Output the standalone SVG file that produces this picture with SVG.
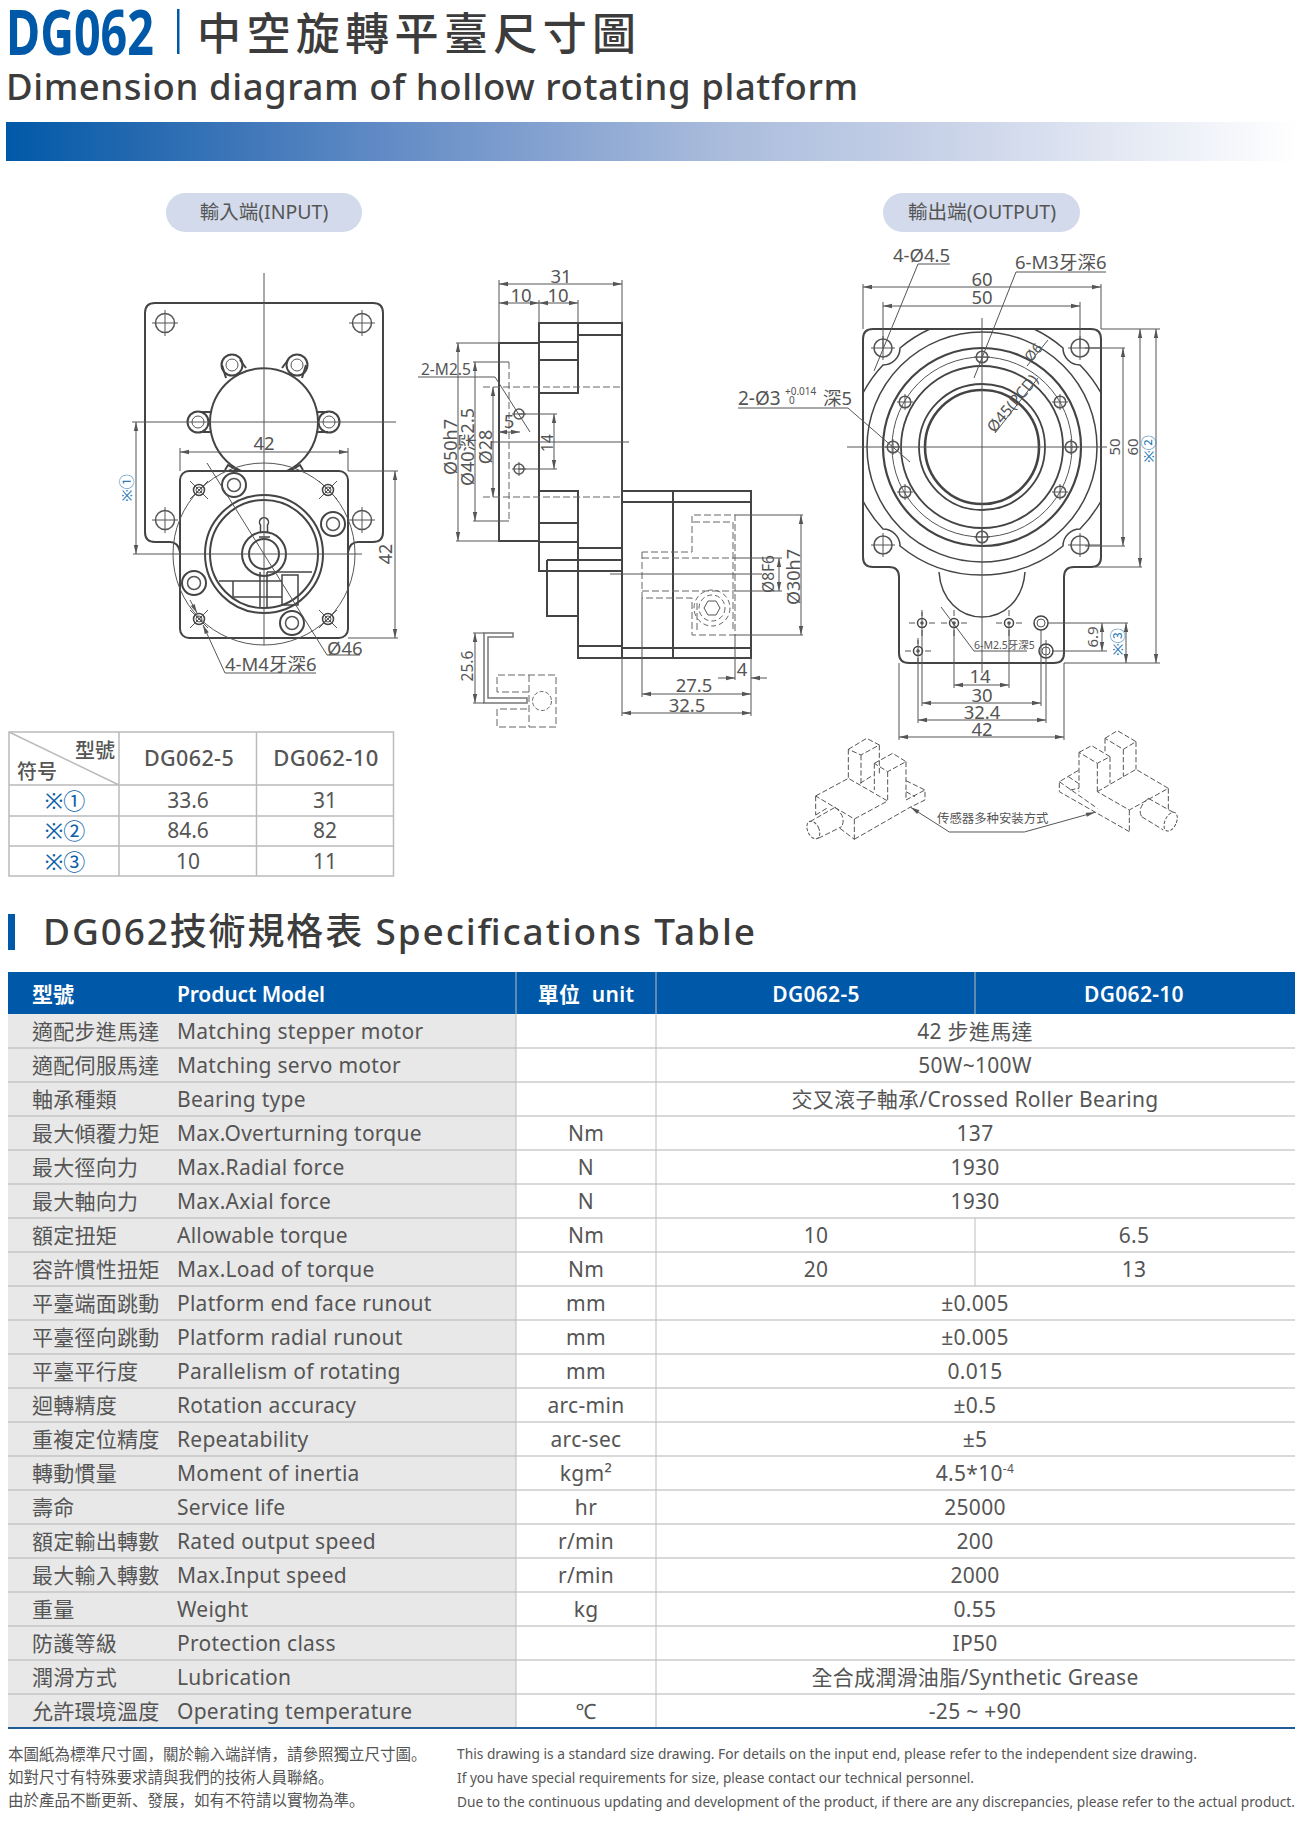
<svg xmlns="http://www.w3.org/2000/svg" width="1310" height="1842" viewBox="0 0 1310 1842">
<style>
text{font-family:"Noto Sans","Noto Sans CJK TC",sans-serif;fill:#555}
.cn{font-family:"Noto Sans CJK TC","Noto Sans",sans-serif}
.sc{font-family:"Noto Sans CJK SC","Noto Sans",sans-serif}
.m{text-anchor:middle}
.d{font-size:18.5px;fill:#555}
.r{font-size:18px;text-anchor:middle;dominant-baseline:central}
.b{fill:#2a7ab8}
.k{fill:none;stroke:#444;stroke-width:2}
.n{fill:none;stroke:#555;stroke-width:1}
.h{fill:none;stroke:#666;stroke-width:1;stroke-dasharray:7 3}
.a{fill:none;stroke:#555;stroke-width:1;marker-start:url(#arr);marker-end:url(#arr)}
.e{fill:none;stroke:#555;stroke-width:1;marker-end:url(#arr)}
.s{fill:none;stroke:#555;stroke-width:3;stroke-dasharray:16 7}
.sl{fill:none;stroke:#555;stroke-width:3;marker-start:url(#arr3);marker-end:url(#arr3)}
.g{fill:none;stroke:#bbb;stroke-width:1.5}
.l{font-size:21px;fill:#555;letter-spacing:.25px}
.u{font-size:21px;fill:#555;text-anchor:middle;letter-spacing:.3px}
.w{font-size:21px;fill:#fff;font-weight:600}
.rl{stroke:#b4b4b4;stroke-width:1.2}
.vl{stroke:#bdbdbd;stroke-width:1}
.f{font-size:15.2px;fill:#555}
.fc{font-size:15.5px;fill:#555}
.hd{font-size:21.5px;font-weight:500;letter-spacing:.4px;text-anchor:middle}
.sy{font-size:22px;fill:#0b5fa8;text-anchor:middle}
</style>
<defs>
<linearGradient id="bar" x1="0" x2="1" y1="0" y2="0">
<stop offset="0" stop-color="#0059a8"/><stop offset=".12" stop-color="#2a6cb2"/><stop offset=".3" stop-color="#648cc6"/><stop offset=".55" stop-color="#a9bbdc"/><stop offset=".75" stop-color="#cdd6ea"/><stop offset="1" stop-color="#fff"/>
</linearGradient>
<marker id="arr" viewBox="-10 -3 11 6" refX="0" refY="0" markerWidth="11" markerHeight="6" markerUnits="userSpaceOnUse" orient="auto-start-reverse"><path d="M0,0 L-9,-2.2 L-9,2.2 Z" fill="#555"/></marker>
<marker id="arr3" viewBox="-10 -3 11 6" refX="0" refY="0" markerWidth="33" markerHeight="18" markerUnits="userSpaceOnUse" orient="auto-start-reverse"><path d="M0,0 L-9,-2.2 L-9,2.2 Z" fill="#555"/></marker>
<g id="hole"><circle r="9.5" class="n" style="stroke-width:1.5"/><path d="M-13,0H13M0,-13V13" class="n"/></g>
<g id="lobe"><circle r="10.5" class="k"/><circle r="6" class="n"/></g>
<g id="bolt"><circle r="12" class="k"/><circle r="6.5" class="n" style="stroke-width:1.5"/></g>
<g id="tap"><circle r="5.5" class="k" style="stroke-width:1.5"/><circle r="3" class="n"/><path d="M-9,-9L9,9M-9,9L9,-9" class="n"/></g>
<g id="pcd"><circle r="5.8" class="n" style="stroke-width:1.5"/><path d="M-8,0H8M0,-8V8" class="n"/></g>
<g id="tiny"><circle r="4.5" class="k" style="stroke-width:1.5"/><circle r="1.8" fill="#555"/><path d="M-13,0H-7M7,0H13M0,-13V-7M0,7V13" class="n"/></g>
</defs>

<g id="title">
<text x="6" y="55" font-size="62" font-weight="700" style="fill:#0059a8" textLength="148" lengthAdjust="spacingAndGlyphs">DG062</text>
<rect x="177" y="9" width="2.5" height="45" fill="#0059a8"/>
<text class="cn" x="197" y="50" font-size="44" font-weight="500" style="fill:#3c3c3c" textLength="439">中空旋轉平臺尺寸圖</text>
<text x="6" y="100" font-size="36.500" font-weight="500" style="fill:#3c3c3c" textLength="852">Dimension diagram of hollow rotating platform</text>
<rect x="6" y="122" width="1292" height="39" fill="url(#bar)"/>
</g>

<g id="input-label"><rect x="166" y="193" width="196" height="39" rx="19.5" fill="#d2daeb"/><text class="m" x="264" y="219" font-size="19.500">輸入端(INPUT)</text></g>
<g id="output-label"><rect x="883" y="193" width="197" height="39" rx="19.5" fill="#d2daeb"/><text class="m" x="982" y="219" font-size="19.600">輸出端(OUTPUT)</text></g>

<g id="input-view">
<path class="k" d="M180,552 Q178,542 170,542 H155 Q145,542 145,532 V313 Q145,303 155,303 H373 Q383,303 383,313 V532 Q383,542 373,542 H358 Q350,542 348,552"/>
<use href="#hole" x="165" y="323"/><use href="#hole" x="362" y="323"/><use href="#hole" x="165" y="520"/><use href="#hole" x="362" y="520"/>
<path class="k" d="M287,471 A54,54 0 1 0 241,471"/>
<path class="k" d="M225,470L228,465L238,471M303,470L300,465L290,471"/>
<path class="k" d="M222,365L226,378M240,360L246,368M306,365L302,378M288,360L282,368M200,412H211M200,432H211M328,412H317M328,432H317"/>
<use href="#lobe" x="232" y="365"/><use href="#lobe" x="297" y="365"/><use href="#lobe" x="198" y="422"/><use href="#lobe" x="329" y="422"/>
<rect class="k" x="180" y="471" width="168" height="167" rx="9"/>
<circle class="n" cx="264" cy="554" r="91"/>
<circle class="k" cx="264" cy="554" r="59"/><circle class="k" cx="264" cy="554" r="54"/>
<circle class="k" cx="264" cy="554" r="22"/><circle class="k" cx="264" cy="554" r="15"/>
<path class="k" style="stroke-width:1.5" d="M260.5,533V525A4.5,4.5 0 1 1 267.5,525V533M259,537H270"/>
<path class="k" style="stroke-width:1.5" d="M260,572V608M267,572V608M219,581H282M233,597H282M233,597V581M282,575H298V605H282ZM282,581V597"/>
<path class="k" style="stroke-width:1.5" d="M267,572H312"/>
<use href="#bolt" x="234" y="485"/><use href="#bolt" x="333" y="524"/><use href="#bolt" x="194" y="583"/><use href="#bolt" x="292" y="623"/>
<use href="#tap" x="199" y="490"/><use href="#tap" x="328" y="490"/><use href="#tap" x="199" y="619"/><use href="#tap" x="328" y="619"/>
</g>
<g id="input-connectors">
<path class="n" d="M264,273V645M132,422H396M133,554H362"/>
<path class="a" d="M180,452H348"/><path class="n" d="M180,448V471M348,448V471M348,471H398M348,638H398"/>
<path class="a" d="M395,471V638"/>
<path class="a" d="M136,422V554"/>
<path class="n" d="M207,463L327,655H360"/>
<path class="e" d="M316,673H225L203,625"/><path class="e" d="M190,600L197,613"/>
</g>
<g id="input-text">
<text class="d m" x="264" y="450">42</text>
<text class="r" transform="rotate(-90 385 554)" x="385" y="554">42</text>
<text class="r b" transform="rotate(-90 126 488)" x="126" y="488" style="font-size:15px">※①</text>
<text class="d" x="327" y="655">Ø46</text>
<text class="d" x="225" y="671">4-M4牙深6</text>
</g>

<g id="side-view">
<path class="k" d="M499,343H539V541H499Z"/>
<path class="k" d="M539,393V323H622V658H578V491H539V571H547M539,393H578V323M539,342H578M539,360H578M578,335H622M539,523H578M539,542H578M539,571H622M578,548H622M578,560H622M578,646H622"/>
<path class="k" d="M547,560H578M547,560V616H578"/>
<path class="k" d="M622,491H751V658H622M622,502H751M622,648H751M673,491V658"/>
<path class="h" d="M483,387H622M483,497H622M509,362V521M642,552V598H692V635H735V515H692V552H642M693,522H733V630M697,630V600M642,558H735M642,591H735"/>
<path class="n" d="M473,362H509M473,521H509"/>
<circle class="n" cx="519" cy="414" r="5" style="stroke-width:1.5"/><circle class="n" cx="519" cy="469" r="5" style="stroke-width:1.5"/>
<path class="n" d="M512,469H526M519,462V476M512,414H526"/>
<polygon class="n" points="720,608 716,615 708,615 704,608 708,601 716,601"/>
<circle class="h" cx="712" cy="608" r="13" style="stroke-dasharray:5 3"/><circle class="h" cx="712" cy="608" r="18" style="stroke-dasharray:5 3"/>
<path class="k" d="M484,633H513V637H488V698H527V703H484Z" style="stroke:#777;stroke-width:1.5"/>
<path class="h" d="M529,692H497V675H556V727H497V709H529M529,675V727"/>
<circle class="h" cx="542" cy="701" r="9.5" style="stroke-dasharray:4 2"/>
</g>
<g id="side-connectors">
<path class="n" d="M499,280V343M622,280V323M539,300V323M578,300V323M456,343H499M456,541H499M491,442H629M610,574H762M519,414H557M519,469H557"/>
<path class="a" d="M499,284H622"/><path class="a" d="M499,303H539"/><path class="a" d="M539,303H578"/>
<path class="a" d="M458,343V541"/><path class="a" d="M475,362V521"/><path class="a" d="M493,387V497"/><path class="a" d="M554,414V469"/><path class="a" d="M498,432H520"/>
<path class="n" d="M418,377H495L530,432"/>
<path class="n" d="M735,515H803M735,635H803M735,558H782M735,591H782M735,635V680M751,658V716M622,658V716M642,598V697M473,633H484M473,703H484"/>
<path class="a" d="M779,558V591"/><path class="a" d="M801,515V635"/>
<path class="e" d="M718,678H735"/><path class="e" d="M767,678H751"/>
<path class="a" d="M642,694H751"/><path class="a" d="M622,713H751"/><path class="a" d="M475,633V703"/>
</g>
<g id="side-text">
<text class="d m" x="561" y="283">31</text><text class="d m" x="521" y="302">10</text><text class="d m" x="558" y="302">10</text>
<text class="d" x="421" y="375" style="font-size:15.5px">2-M2.5</text>
<text class="d m" x="509" y="428">5</text>
<text class="r" transform="rotate(-90 450 447)" x="450" y="447">Ø50h7</text>
<text class="r" transform="rotate(-90 467 447)" x="467" y="447">Ø40深2.5</text>
<text class="r" transform="rotate(-90 485 447)" x="485" y="447">Ø28</text>
<text class="r" transform="rotate(-90 547 443)" x="547" y="443" style="font-size:15.5px">14</text>
<text class="r" transform="rotate(-90 768 574)" x="768" y="574" style="font-size:15.5px">Ø8F6</text>
<text class="r" transform="rotate(-90 793 577)" x="793" y="577">Ø30h7</text>
<text class="d m" x="742" y="676">4</text><text class="d m" x="694" y="692">27.5</text><text class="d m" x="687" y="712">32.5</text>
<text class="r" transform="rotate(-90 467 666)" x="467" y="666" style="font-size:15.5px">25.6</text>
</g>

<g id="output-view">
<path class="k" d="M873,329H1091Q1101,329 1101,339V557Q1101,567 1091,567H1074Q1064,567 1064,577V653Q1064,663 1054,663H909Q899,663 899,653V577Q899,567 889,567H873Q863,567 863,557V339Q863,329 873,329Z"/>
<path class="k" style="stroke-width:1.5" d="M930,329A129,129 0 0 0 900,348A17,17 0 0 1 883,365A129,129 0 0 0 863,393M1034,329A129,129 0 0 1 1063,348A17,17 0 0 0 1080,365A129,129 0 0 1 1101,393M863,501A129,129 0 0 0 883,529A17,17 0 0 1 900,546A129,129 0 0 0 1063,546A17,17 0 0 1 1080,529A129,129 0 0 0 1101,501"/>
<path class="k" style="stroke-width:1.5" d="M939,572C941,600 960,617 982,617C1004,617 1023,600 1025,572"/>
<circle class="k" cx="982" cy="447" r="115" style="stroke-width:1.5"/>
<circle class="k" cx="982" cy="447" r="99" style="stroke-width:2.2"/>
<circle class="n" cx="982" cy="447" r="90"/>
<circle class="k" cx="982" cy="447" r="81" style="stroke-width:1.8"/>
<circle class="k" cx="982" cy="447" r="63" style="stroke-width:1.8"/>
<circle class="k" cx="982" cy="447" r="57" style="stroke-width:2.6"/>
<g><circle class="n" cx="883" cy="348" r="9" style="stroke-width:1.6"/><circle class="n" cx="1080" cy="348" r="9" style="stroke-width:1.6"/><circle class="n" cx="883" cy="545" r="9" style="stroke-width:1.6"/><circle class="n" cx="1080" cy="545" r="9" style="stroke-width:1.6"/>
<path class="n" d="M871,348H895M883,336V360M1068,348H1100M1080,336V360M871,545H895M883,533V557M1068,545H1100M1080,533V557"/></g>
<use href="#pcd" x="982" y="357"/><use href="#pcd" x="1060" y="402"/><use href="#pcd" x="1060" y="492"/><use href="#pcd" x="982" y="537"/><use href="#pcd" x="905" y="492"/><use href="#pcd" x="905" y="402"/><use href="#pcd" x="893" y="447"/><use href="#pcd" x="1071" y="447"/>
<use href="#tiny" x="922" y="623"/><use href="#tiny" x="954" y="623"/><use href="#tiny" x="1009" y="623"/><use href="#tiny" x="918" y="651"/>
<circle class="k" cx="1041" cy="623" r="7" style="stroke-width:1.5"/><circle class="n" cx="1041" cy="623" r="4"/><circle class="k" cx="1046" cy="651" r="7" style="stroke-width:1.5"/><circle class="n" cx="1046" cy="651" r="4"/>
</g>
<g id="output-connectors">
<path class="n" d="M982,318V673M847,447H1107"/>
<path class="n" d="M863,284V329M1101,284V329M883,302V348M1080,302V348M1085,348H1125M1085,546H1125M1101,329H1160M1095,567H1142M1064,663H1160M1048,623H1128M1052,651H1107"/>
<path class="a" d="M863,287H1101"/><path class="a" d="M883,306H1080"/>
<path class="a" d="M1123,348V546"/><path class="a" d="M1140,329V567"/><path class="a" d="M1156,329V663"/><path class="a" d="M1102,623V651"/><path class="a" d="M1126,623V663"/>
<path class="n" d="M954,623V688M1009,623V688M922,612V706M1041,630V706M918,640V723M1046,640V723M899,663V740M1064,663V740"/>
<path class="a" d="M954,685H1009"/><path class="a" d="M922,703H1041"/><path class="a" d="M918,720H1046"/><path class="a" d="M899,737H1064"/>
<path class="n" d="M950,264H918L874,371"/><path class="n" d="M1106,272H1016L974,378"/>
<path class="n" d="M738,408H848L910,462"/>
<path class="n" d="M995,433L1038,378M1027,366L1048,340"/>
<path class="n" d="M1027,651H974L941,607"/>
</g>
<g id="output-text">
<text class="d" x="893" y="262">4-Ø4.5</text>
<text class="d" x="1015" y="269">6-M3牙深6</text>
<text class="d m" x="982" y="286">60</text><text class="d m" x="982" y="304">50</text>
<text class="d" x="738" y="405" style="font-size:19px">2-Ø3</text>
<text x="785" y="395" font-size="10">+0.014</text><text x="789" y="404" font-size="10">0</text>
<text class="d" x="823" y="405">深5</text>
<text class="r" transform="rotate(-50 1012 403)" x="1012" y="403" style="font-size:15.5px">Ø45(PCD)</text>
<text class="r" transform="rotate(-50 1033 352)" x="1033" y="352" style="font-size:14px">Ø6</text>
<text class="r" transform="rotate(-90 1114 447)" x="1114" y="447" style="font-size:15px">50</text>
<text class="r" transform="rotate(-90 1132 447)" x="1132" y="447" style="font-size:15px">60</text>
<text class="r b" transform="rotate(-90 1148 449)" x="1148" y="449" style="font-size:15px">※②</text>
<text class="r" transform="rotate(-90 1092 637)" x="1092" y="637" style="font-size:15px">6.9</text>
<text class="r b" transform="rotate(-90 1117 642)" x="1117" y="642" style="font-size:15px">※③</text>
<text x="974" y="649" font-size="10.5">6-M2.5牙深5</text>
<text class="d m" x="980" y="683">14</text><text class="d m" x="982" y="702">30</text><text class="d m" x="982" y="719">32.4</text><text class="d m" x="982" y="736">42</text>
</g>

<g id="sensors" transform="translate(790 720) scale(.33333)">
<path class="s" d="M175,88L230,55L268,75L213,105ZM175,88V175M213,105V190M268,75V165M253,130L308,100L348,125L293,155ZM253,130V210M293,155V240M348,125V240M77,228L175,175L293,243L193,297ZM77,228V285M193,297V358M193,358L360,262M348,182L405,210V240L360,262M348,215L375,230M348,240L405,210M210,190L250,165"/>
<path class="s" d="M60,305L135,262M85,355L155,320M135,262Q170,290 155,320M77,285L110,265M150,325L193,358"/>
<ellipse class="s" cx="70" cy="330" rx="17" ry="28" transform="rotate(-25 70 330)" style="stroke-dasharray:10 5"/>
<path class="s" d="M945,55L982,32L1038,65L1000,88ZM945,55V100M1000,88V170M1038,65V148M867,97L905,77L960,110L922,130ZM867,97V215M922,130V215M960,110V190M922,215L1038,148L1135,205L1018,270ZM1135,205V270M1018,270V335M1018,335L808,215V185L867,150M808,185L922,265M835,170L865,190M840,210L867,205"/>
<path class="s" d="M1075,235L1155,280M1055,290L1120,330M1075,235Q1040,265 1055,290"/>
<ellipse class="s" cx="1142" cy="305" rx="17" ry="30" transform="rotate(25 1142 305)" style="stroke-dasharray:10 5"/>
<path class="sl" d="M362,262L478,336H703L915,277"/>
</g>
<text id="sensor-label" class="sc" x="937" y="823" font-size="12.4">传感器多种安装方式</text>

<g id="symbol-table">
<rect class="g" x="9" y="732" width="384.500" height="144"/>
<path class="g" d="M9,732L119,785M119,732V876M256.500,732V876M9,785H393.500M9,816H393.500M9,846H393.500"/>
<text class="cn" x="75" y="758" font-size="20" font-weight="500">型號</text>
<text class="sc" x="17" y="779" font-size="20" font-weight="500">符号</text>
<text class="hd" x="189" y="766">DG062-5</text>
<text class="hd" x="326" y="766" style="font-size:22px">DG062-10</text>
<text class="sy" x="65" y="809">※①</text><text class="m" x="188" y="808" font-size="21">33.6</text><text class="m" x="325" y="808" font-size="21">31</text>
<text class="sy" x="65" y="839">※②</text><text class="m" x="188" y="838" font-size="21">84.6</text><text class="m" x="325" y="838" font-size="21">82</text>
<text class="sy" x="65" y="870">※③</text><text class="m" x="188" y="869" font-size="21">10</text><text class="m" x="325" y="869" font-size="21">11</text>
</g>

<g id="spec-heading">
<rect x="8" y="914" width="7" height="36" fill="#0059a8"/>
<text x="43" y="945" font-size="37" font-weight="500" style="fill:#3c3c3c" textLength="712">DG062技術規格表 Specifications Table</text>
</g>

<g id="spec-table">
<rect x="8" y="972" width="1287" height="42" fill="#0059a8"/>
<rect x="8" y="1014" width="508" height="714" fill="#e8e8e8"/>
<path class="rl" d="M8,1048H1295M8,1082H1295M8,1116H1295M8,1150H1295M8,1184H1295M8,1218H1295M8,1252H1295M8,1286H1295M8,1320H1295M8,1354H1295M8,1388H1295M8,1422H1295M8,1456H1295M8,1490H1295M8,1524H1295M8,1558H1295M8,1592H1295M8,1626H1295M8,1660H1295M8,1694H1295"/>
<path class="vl" d="M516,972V1728M656,972V1728M975,972V1014M975,1218V1286"/>
<rect x="8" y="1727" width="1287" height="2" fill="#1f5d99"/>
<text class="w cn" x="32" y="1002">型號</text><text class="w" x="177" y="1002" textLength="148">Product Model</text>
<text class="w u" x="586" y="1002" style="fill:#fff;font-weight:600">單位&#160;&#160;unit</text><text class="w u" x="816" y="1002" style="fill:#fff;font-weight:600">DG062-5</text><text class="w u" x="1134" y="1002" style="fill:#fff;font-weight:600">DG062-10</text>
<g id="row-1"><text class="l cn" x="32" y="1039">適配步進馬達</text><text class="l" x="177" y="1039">Matching stepper motor</text><text class="u" x="975" y="1039">42 步進馬達</text></g>
<g id="row-2"><text class="l cn" x="32" y="1073">適配伺服馬達</text><text class="l" x="177" y="1073">Matching servo motor</text><text class="u" x="975" y="1073">50W~100W</text></g>
<g id="row-3"><text class="l cn" x="32" y="1107">軸承種類</text><text class="l" x="177" y="1107">Bearing type</text><text class="u" x="975" y="1107">交叉滾子軸承/Crossed Roller Bearing</text></g>
<g id="row-4"><text class="l cn" x="32" y="1141">最大傾覆力矩</text><text class="l" x="177" y="1141">Max.Overturning torque</text><text class="u" x="586" y="1141">Nm</text><text class="u" x="975" y="1141">137</text></g>
<g id="row-5"><text class="l cn" x="32" y="1175">最大徑向力</text><text class="l" x="177" y="1175">Max.Radial force</text><text class="u" x="586" y="1175">N</text><text class="u" x="975" y="1175">1930</text></g>
<g id="row-6"><text class="l cn" x="32" y="1209">最大軸向力</text><text class="l" x="177" y="1209">Max.Axial force</text><text class="u" x="586" y="1209">N</text><text class="u" x="975" y="1209">1930</text></g>
<g id="row-7"><text class="l cn" x="32" y="1243">額定扭矩</text><text class="l" x="177" y="1243">Allowable torque</text><text class="u" x="586" y="1243">Nm</text><text class="u" x="816" y="1243">10</text><text class="u" x="1134" y="1243">6.5</text></g>
<g id="row-8"><text class="l cn" x="32" y="1277">容許慣性扭矩</text><text class="l" x="177" y="1277">Max.Load of torque</text><text class="u" x="586" y="1277">Nm</text><text class="u" x="816" y="1277">20</text><text class="u" x="1134" y="1277">13</text></g>
<g id="row-9"><text class="l cn" x="32" y="1311">平臺端面跳動</text><text class="l" x="177" y="1311">Platform end face runout</text><text class="u" x="586" y="1311">mm</text><text class="u" x="975" y="1311">±0.005</text></g>
<g id="row-10"><text class="l cn" x="32" y="1345">平臺徑向跳動</text><text class="l" x="177" y="1345">Platform radial runout</text><text class="u" x="586" y="1345">mm</text><text class="u" x="975" y="1345">±0.005</text></g>
<g id="row-11"><text class="l cn" x="32" y="1379">平臺平行度</text><text class="l" x="177" y="1379">Parallelism of rotating</text><text class="u" x="586" y="1379">mm</text><text class="u" x="975" y="1379">0.015</text></g>
<g id="row-12"><text class="l cn" x="32" y="1413">迴轉精度</text><text class="l" x="177" y="1413">Rotation accuracy</text><text class="u" x="586" y="1413">arc-min</text><text class="u" x="975" y="1413">±0.5</text></g>
<g id="row-13"><text class="l cn" x="32" y="1447">重複定位精度</text><text class="l" x="177" y="1447">Repeatability</text><text class="u" x="586" y="1447">arc-sec</text><text class="u" x="975" y="1447">±5</text></g>
<g id="row-14"><text class="l cn" x="32" y="1481">轉動慣量</text><text class="l" x="177" y="1481">Moment of inertia</text><text class="u" x="586" y="1481">kgm²</text><text class="u" x="975" y="1481">4.5*10<tspan font-size="12" dy="-8">-4</tspan></text></g>
<g id="row-15"><text class="l cn" x="32" y="1515">壽命</text><text class="l" x="177" y="1515">Service life</text><text class="u" x="586" y="1515">hr</text><text class="u" x="975" y="1515">25000</text></g>
<g id="row-16"><text class="l cn" x="32" y="1549">額定輸出轉數</text><text class="l" x="177" y="1549">Rated output speed</text><text class="u" x="586" y="1549">r/min</text><text class="u" x="975" y="1549">200</text></g>
<g id="row-17"><text class="l cn" x="32" y="1583">最大輸入轉數</text><text class="l" x="177" y="1583">Max.Input speed</text><text class="u" x="586" y="1583">r/min</text><text class="u" x="975" y="1583">2000</text></g>
<g id="row-18"><text class="l cn" x="32" y="1617">重量</text><text class="l" x="177" y="1617">Weight</text><text class="u" x="586" y="1617">kg</text><text class="u" x="975" y="1617">0.55</text></g>
<g id="row-19"><text class="l cn" x="32" y="1651">防護等級</text><text class="l" x="177" y="1651">Protection class</text><text class="u" x="975" y="1651">IP50</text></g>
<g id="row-20"><text class="l cn" x="32" y="1685">潤滑方式</text><text class="l" x="177" y="1685">Lubrication</text><text class="u" x="975" y="1685">全合成潤滑油脂/Synthetic Grease</text></g>
<g id="row-21"><text class="l cn" x="32" y="1719">允許環境溫度</text><text class="l" x="177" y="1719">Operating temperature</text><text class="u" x="586" y="1719">℃</text><text class="u" x="975" y="1719">-25 ~ +90</text></g>
</g>

<g id="footer">
<text class="fc sc" x="8" y="1760">本圖紙為標準尺寸圖，關於輸入端詳情，請參照獨立尺寸圖。</text>
<text class="fc sc" x="8" y="1783">如對尺寸有特殊要求請與我們的技術人員聯絡。</text>
<text class="fc sc" x="8" y="1806">由於產品不斷更新、發展，如有不符請以實物為準。</text>
<text class="f" x="457" y="1759" textLength="740" lengthAdjust="spacingAndGlyphs">This drawing is a standard size drawing. For details on the input end, please refer to the independent size drawing.</text>
<text class="f" x="457" y="1783" textLength="517" lengthAdjust="spacingAndGlyphs">If you have special requirements for size, please contact our technical personnel.</text>
<text class="f" x="457" y="1807" textLength="838" lengthAdjust="spacingAndGlyphs">Due to the continuous updating and development of the product, if there are any discrepancies, please refer to the actual product.</text>
</g>
</svg>
